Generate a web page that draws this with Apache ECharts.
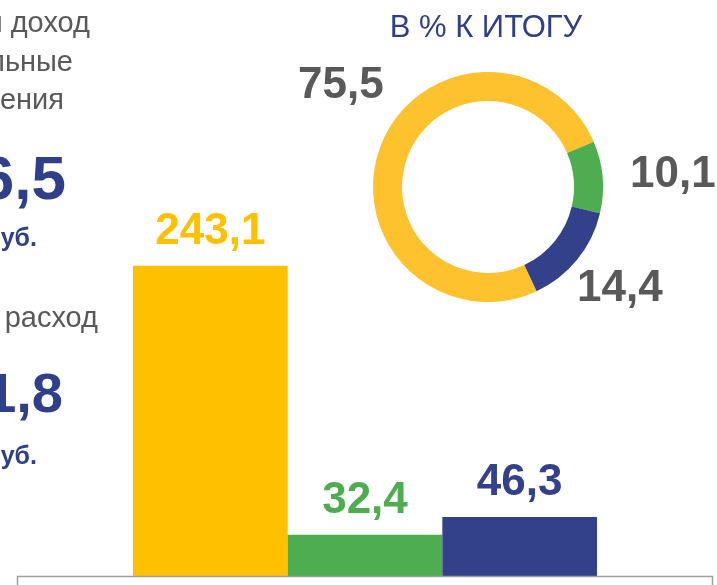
<!DOCTYPE html>
<html>
<head>
<meta charset="utf-8">
<script src="https://cdn.jsdelivr.net/npm/echarts@6/dist/echarts.min.js"></script>
<style>
    html, body { margin: 0; padding: 0; background: #fff; }
    #main { width: 717px; height: 585px; }
</style>
</head>
<body>
<div id="main"></div>
<script>
// структура расходов, млрд руб.
const categories = ['Потребительские расходы', 'Обязательные платежи', 'Сбережения'];
const values = [243.1, 32.4, 46.3];
// в % к итогу
const shares = [75.5, 10.1, 14.4];
const colors = ['#FFC000', '#4EAD51', '#33418A'];
const ringColors = ['#FEC22F', '#4EAD51', '#33418A'];

const FONT = '"Liberation Sans", Arial, sans-serif';
const GRAY = '#595959';
const BLUE = '#2F3F8A';

const fmt = v => String(v).replace('.', ',');

// позиции подписей у кольца (левый край, центр по вертикали)
const ringLabelPos = [[298, 86], [630, 175], [577, 289]];

const myChart = echarts.init(document.getElementById('main'), null, { renderer: 'canvas' });

const sideText = (text, x, y, size, color, weight, align) => ({
    type: 'text',
    x: x,
    y: y,
    style: {
        text: text,
        fill: color,
        font: (weight || 'normal') + ' ' + size + 'px ' + FONT,
        align: align || 'right',
        verticalAlign: 'middle'
    }
});

const option = {
    animation: false,
    grid: {
        left: 133,
        right: 120,
        top: 193,
        bottom: 9
    },
    xAxis: {
        type: 'category',
        data: categories,
        show: false
    },
    yAxis: {
        type: 'value',
        min: 0,
        max: 300,
        show: false
    },
    series: [
        {
            type: 'bar',
            barCategoryGap: '0%',
            data: values.map((v, i) => ({ value: v, itemStyle: { color: colors[i] } })),
            label: {
                show: true,
                position: 'top',
                distance: 12,
                fontFamily: FONT,
                fontWeight: 'bold',
                fontSize: 44,
                formatter: p => fmt(p.value),
                color: 'inherit'
            }
        },
        {
            type: 'pie',
            center: [488, 187],
            radius: [86, 115],
            startAngle: 295,
            clockwise: true,
            silent: true,
            data: shares.map((v, i) => ({ name: categories[i], value: v, itemStyle: { color: ringColors[i] } })),
            label: {
                show: true,
                position: 'outside',
                fontFamily: FONT,
                fontWeight: 'bold',
                fontSize: 44,
                color: GRAY,
                overflow: 'none',
                width: 200,
                formatter: p => fmt(p.value)
            },
            labelLine: { show: false },
            labelLayout: p => ({
                x: ringLabelPos[p.dataIndex][0],
                y: ringLabelPos[p.dataIndex][1],
                align: 'left',
                verticalAlign: 'middle',
                hideOverlap: false
            })
        }
    ],
    graphic: [
        sideText('В % К ИТОГУ', 486, 28, 31, BLUE, 'normal', 'center'),
        sideText('Средний доход', 90, 24, 29, GRAY),
        sideText('номинальные', 73, 63, 29, GRAY),
        sideText('населения', 64, 101, 29, GRAY),
        sideText('336,5', 66, 182, 62, BLUE, 'bold'),
        sideText('млрд руб.', 37, 239, 25, BLUE, 'bold'),
        sideText('Денежный расход', 98, 319, 29, GRAY),
        sideText('321,8', 63, 397, 56, BLUE, 'bold'),
        sideText('млрд руб.', 37, 457, 25, BLUE, 'bold'),
        {
            type: 'rect',
            z: 100,
            shape: { x: 17.5, y: 576.5, width: 695, height: 30 },
            style: { fill: 'none', stroke: '#A0A0A0', lineWidth: 1.5 }
        }
    ]
};

myChart.setOption(option);
window.addEventListener('resize', myChart.resize);
</script>
</body>
</html>
